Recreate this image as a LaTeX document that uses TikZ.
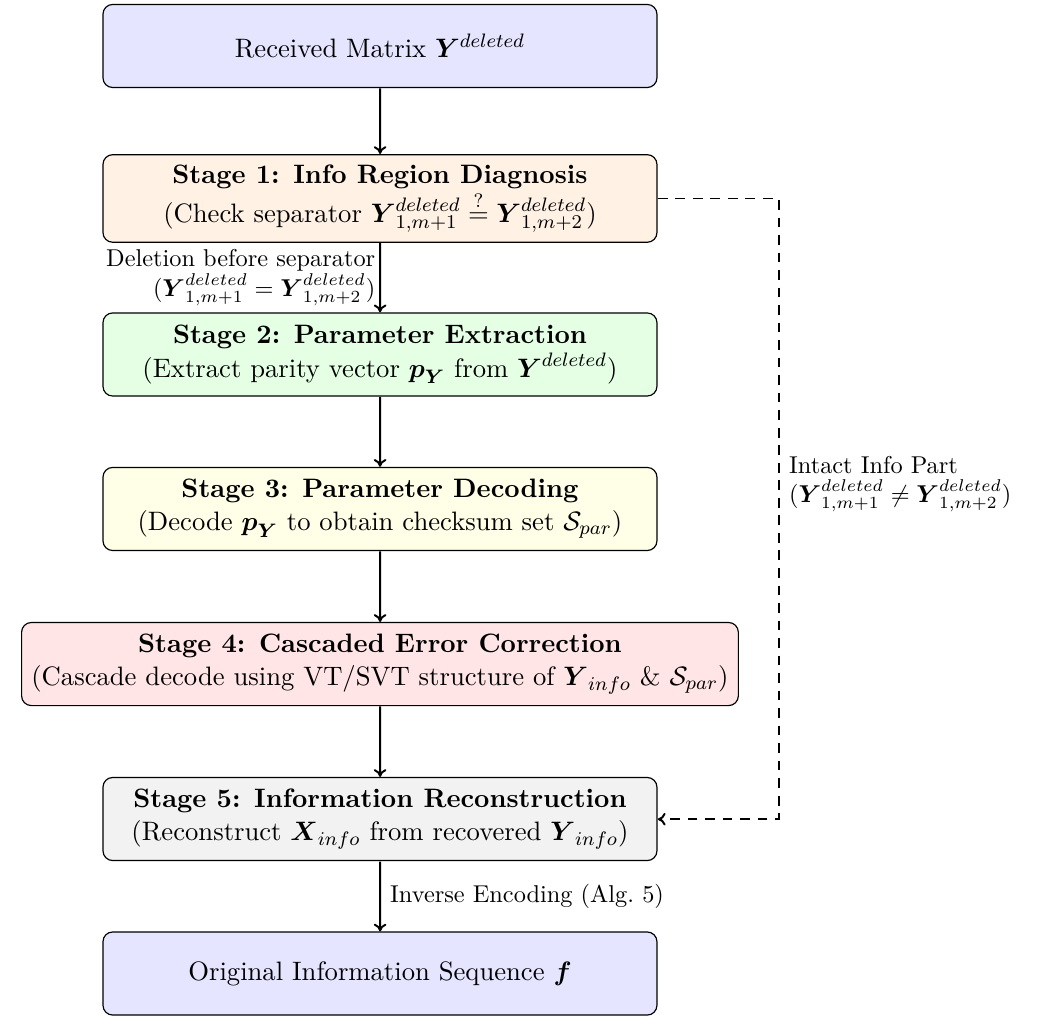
\documentclass[tikz,border=0pt,11pt]{standalone}
\usepackage{amsmath,amssymb}
\usetikzlibrary{arrows.meta}
\tikzset{
  stage box/.style={
    rectangle, rounded corners=5pt, draw=black, line width=0.6pt, align=center,
    minimum width=8cm, minimum height=1.2cm, inner sep=4pt
  },
  io box/.style={
    stage box, fill=blue!10
  },
  flow arrow/.style={
    -{To[length=4pt,width=6.5pt]}, line width=1pt, draw=black
  },
  skip arrow/.style={
    flow arrow, dash pattern=on 5pt off 4pt
  },
  edge note/.style={
    font=\small
  }
}

\begin{document}
\begin{tikzpicture}[scale=1.25, every node/.style={transform shape}]
\useasboundingbox (0,0) rectangle (14.975,-14.70);

% 输入
\node[io box] (recv) at (5.487,-0.664) {Received Matrix $\boldsymbol{Y}^{deleted}$};

% 五个阶段
\node[stage box, fill=orange!10] (s1) at (5.487,-2.866)
  {\textbf{Stage 1: Info Region Diagnosis}\\
   (Check separator $\boldsymbol{Y}^{deleted}_{1,m+1} \stackrel{?}{=} \boldsymbol{Y}^{deleted}_{1,m+2}$)};
\node[stage box, fill=green!10] (s2) at (5.487,-5.119)
  {\textbf{Stage 2: Parameter Extraction}\\
   (Extract parity vector $\boldsymbol{p}_{\boldsymbol{Y}}$ from $\boldsymbol{Y}^{deleted}$)};
\node[stage box, fill=yellow!10] (s3) at (5.487,-7.350)
  {\textbf{Stage 3: Parameter Decoding}\\
   (Decode $\boldsymbol{p}_{\boldsymbol{Y}}$ to obtain checksum set $\mathcal{S}_{par}$)};
\node[stage box, fill=red!10] (s4) at (5.487,-9.589)
  {\textbf{Stage 4: Cascaded Error Correction}\\
   (Cascade decode using VT/SVT structure of $\boldsymbol{Y}_{info}$ \& $\mathcal{S}_{par}$)};
\node[stage box, fill=gray!10] (s5) at (5.487,-11.827)
  {\textbf{Stage 5: Information Reconstruction}\\
   (Reconstruct $\boldsymbol{X}_{info}$ from recovered $\boldsymbol{Y}_{info}$)};

% 输出
\node[io box] (out) at (5.487,-14.058) {Original Information Sequence $\boldsymbol{f}$};

% 主流程箭头
\draw[flow arrow] (recv) -- (s1);
\draw[flow arrow] (s1) -- node[edge note, left, align=right, inner sep=1.5pt]
  {Deletion before separator\\
   ($\boldsymbol{Y}^{deleted}_{1,m+1} = \boldsymbol{Y}^{deleted}_{1,m+2}$)} (s2);
\draw[flow arrow] (s2) -- (s3);
\draw[flow arrow] (s3) -- (s4);
\draw[flow arrow] (s4) -- (s5);
\draw[flow arrow] (s5) -- node[edge note, right] {Inverse Encoding (Alg.~5)} (out);

% 跳过分支
\draw[skip arrow] (s1.east) -- ++(1.75,0) |- node[edge note, pos=0.23, right, align=left]
  {Intact Info Part\\
   ($\boldsymbol{Y}^{deleted}_{1,m+1} \neq \boldsymbol{Y}^{deleted}_{1,m+2}$)} (s5.east);

\end{tikzpicture}
\end{document}
